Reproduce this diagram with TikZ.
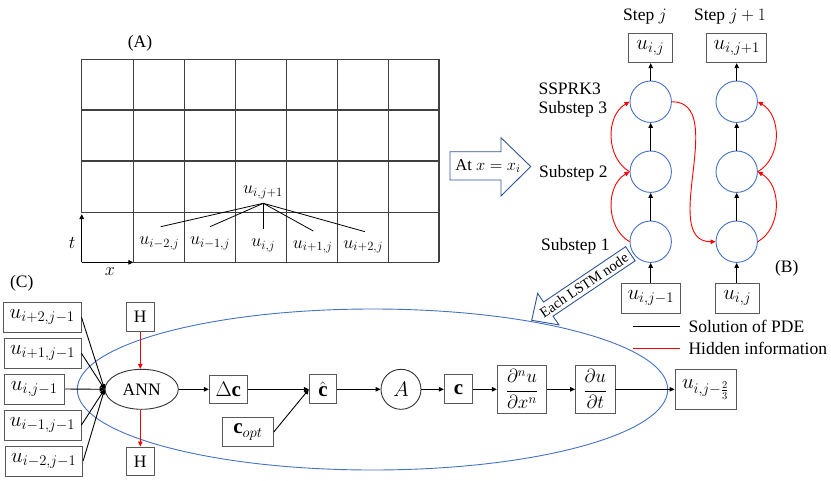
\RequirePackage{fix-cm}
\documentclass[tikz,border=0pt]{standalone}
\usepackage{amsmath}
\usepackage{fontspec}
\setmainfont{Liberation Serif}
\usetikzlibrary{arrows.meta,shapes.geometric}
\definecolor{cblue}{HTML}{4472C4}
\definecolor{dblue}{HTML}{2F5597}
\definecolor{gline}{HTML}{404040}
\definecolor{bline}{HTML}{595959}
\begin{document}
\begin{tikzpicture}[x=1pt,y=-1pt,
  every node/.style={font=\fontsize{17.5}{20}\selectfont},
  box/.style={draw=bline, line width=0.9pt, fill=white, inner sep=0pt},
  arr/.style={-{Triangle[length=5pt,width=4.5pt]}},
  blk/.style={arr, line width=0.9pt, black},
  rd/.style={arr, line width=0.9pt, red},
  lc/.style={circle, draw=cblue, line width=0.9pt, minimum size=41.4pt, inner sep=0pt},
  mth/.style={font=\fontsize{21}{24}\selectfont},
  gmth/.style={font=\fontsize{18}{21}\selectfont},
  gridl/.style={draw=gline, line width=1.1pt},
  thin/.style={line width=0.8pt, black}
]
\useasboundingbox (0,0) rectangle (831,480);

% ---------------- (A) grid ----------------
\foreach \x in {133.3,184.3,235.3,286.3,337.3,388.3,439}
  \draw[gridl] (\x,59.3) -- (\x,262.3);
\draw[gridl] (81.7,59.3) -- (81.7,212.7);
\foreach \y in {59.3,110,161,212.7}
  \draw[gridl] (81.7,\y) -- (439,\y);
\draw[gridl] (133.3,262.3) -- (439,262.3);
\coordinate (O) at (81.7,262.3);
\coordinate (tax) at (81.7,214);
\coordinate (xax) at (133.3,262.3);
\draw[arr, line width=1.1pt, black] (O) -- (tax);
\draw[arr, line width=1.1pt, black] (O) -- (xax);
\node (lA) at (140,43) {(A)};
\node[gmth] (lt) at (72,243) {$t$};
\node[gmth] (lx) at (110,272) {$x$};

\node[gmth] (up) at (263,192) {$u_{i,j+1}$};
\coordinate (hub) at (263.3,203.3);
\coordinate (e1) at (160.7,226.7);
\coordinate (e2) at (210,226.7);
\coordinate (e3) at (263.3,229);
\coordinate (e4) at (313.3,231);
\coordinate (e5) at (365,231.7);
\foreach \e in {e1,e2,e3,e4,e5} \draw[thin] (hub) -- (\e);
\node[gmth] (g1) at (159.3,243.3) {$u_{i-2,j}$};
\node[gmth] (g2) at (210,243.3) {$u_{i-1,j}$};
\node[gmth] (g3) at (263.3,245) {$u_{i,j}$};
\node[gmth] (g4) at (312.7,246.7) {$u_{i+1,j}$};
\node[gmth] (g5) at (363.3,246.7) {$u_{i+2,j}$};

% ---------------- big arrow ----------------
\draw[dblue, fill=white, line width=0.9pt] (450,151.7) -- (501,151.7) -- (501,137.7)
  -- (530.7,166.5) -- (501,196) -- (501,180) -- (450,180) -- cycle;
\node[font=\fontsize{16.5}{19}\selectfont] (atx) at (488,166) {At $x=x_i$};

% ---------------- (B) ----------------
\node (sj) at (645,17) {Step $j$};
\node (sj1) at (730,17) {Step $j+1$};
\node[anchor=west] (ss0) at (535,88.3) {SSPRK3};
\node[anchor=west] (ss3) at (535,109.3) {Substep 3};
\node[anchor=west] (ss2) at (535.5,173.3) {Substep 2};
\node[anchor=west] (ss1) at (537.5,246) {Substep 1};
\node (lB) at (786.7,268.3) {(B)};

\node[box, minimum width=44pt, minimum height=29.4pt, mth] (TL) at (650.3,48) {$u_{i,j}$};
\node[box, minimum width=60pt, minimum height=29.4pt, mth] (TR) at (736.7,48) {$u_{i,j+1}$};
\node[lc] (L1) at (650.7,241.7) {};
\node[lc] (L2) at (650.7,171.7) {};
\node[lc] (L3) at (650.7,101.7) {};
\node[lc] (R1) at (736.7,241.7) {};
\node[lc] (R2) at (736.7,171.7) {};
\node[lc] (R3) at (736.7,101.7) {};
\node[box, minimum width=59.7pt, minimum height=30pt, mth] (BL) at (650.8,298.3) {$u_{i,j-1}$};
\node[box, minimum width=44.3pt, minimum height=30pt, mth] (BR) at (737.2,298.3) {$u_{i,j}$};

\draw[blk] (BL.north -| L1) -- (L1.south);
\draw[blk] (L1.north) -- (L2.south);
\draw[blk] (L2.north) -- (L3.south);
\draw[blk] (L3.north) -- (TL.south -| L3);
\draw[blk] (BR.north -| R1) -- (R1.south);
\draw[blk] (R1.north) -- (R2.south);
\draw[blk] (R2.north) -- (R3.south);
\draw[blk] (R3.north) -- (TR.south -| R3);

\draw[rd] (L1.west) .. controls +(-24,-14) and +(-24,14) .. (L2.west);
\draw[rd] (L2.west) .. controls +(-24,-14) and +(-24,14) .. (L3.west);
\draw[rd] (R1.east) .. controls +(24,-14) and +(24,14) .. (R2.east);
\draw[rd] (R2.east) .. controls +(24,-14) and +(24,14) .. (R3.east);
\draw[rd] (L3.east) to[out=0,in=180] (R1.west);

% legend
\coordinate (k1) at (633.3,326.7);
\coordinate (k2) at (680,326.7);
\coordinate (k3) at (633.3,348.3);
\coordinate (k4) at (680,348.3);
\draw[line width=1pt, black] (k1) -- (k2);
\draw[line width=1pt, red] (k3) -- (k4);
\node[anchor=west] (kt1) at (685,326.7) {Solution of PDE};
\node[anchor=west] (kt2) at (685,348.3) {Hidden information};

% ---------------- (C) ----------------
\node[ellipse, draw=cblue, line width=0.9pt, minimum width=590.4pt, minimum height=161pt, inner sep=0pt] (E) at (372.5,389.5) {};

\begin{scope}[shift={(531.7,320.3)}, rotate=34]
  \draw[dblue, fill=white, line width=0.9pt] (0,0) -- (20,19) -- (20,8.5) -- (119,8.5)
    -- (119,-8.5) -- (20,-8.5) -- (20,-19) -- cycle;
  \node[rotate=34, font=\fontsize{14.5}{16}\selectfont, inner sep=0pt] (lstm) at (63,0) {Each LSTM node};
\end{scope}

\node (lC) at (21.7,283.3) {(C)};
\node[box, minimum width=77.7pt, minimum height=30pt, mth] (u1) at (42.2,317.3) {$u_{i+2,j-1}$};
\node[box, minimum width=77pt, minimum height=30pt, mth] (u2) at (42.5,353.3) {$u_{i+1,j-1}$};
\node[box, minimum width=60.3pt, minimum height=30pt, mth] (u3) at (34.2,389) {$u_{i,j-1}$};
\node[box, minimum width=77pt, minimum height=30pt, mth] (u4) at (42.5,425) {$u_{i-1,j-1}$};
\node[box, minimum width=77.7pt, minimum height=30pt, mth] (u5) at (43.8,461) {$u_{i-2,j-1}$};

\node[ellipse, draw=black!80, line width=0.9pt, minimum width=73.3pt, minimum height=40pt, inner sep=0pt] (ann) at (141.7,389.3) {ANN};
\node[box, minimum width=27.3pt, minimum height=28.7pt] (Ht) at (140.3,316.7) {H};
\node[box, minimum width=27.3pt, minimum height=28.7pt] (Hb) at (140.3,461.3) {H};

\foreach \u in {u1,u2,u3,u4,u5} \draw[blk] (\u.east) -- (ann.west);
\draw[rd] (Ht.south) -- (ann.north -| Ht.south);
\draw[rd] (ann.south -| Hb.north) -- (Hb.north);

\node[box, minimum width=38pt, minimum height=28.3pt, mth] (dc) at (228.3,389.3) {$\Delta\mathbf{c}$};
\node[box, minimum width=27.4pt, minimum height=29pt, mth] (ch) at (323,389.3) {$\hat{\mathbf{c}}$};
\node[box, minimum width=50.6pt, minimum height=29.4pt, mth] (copt) at (248,432) {$\mathbf{c}_{opt}$};
\node[circle, draw=black!80, line width=0.9pt, minimum size=40pt, inner sep=0pt, mth] (A) at (401,389.3) {$A$};
\node[box, minimum width=28.4pt, minimum height=29pt, mth] (cc) at (458.5,389.3) {$\mathbf{c}$};
\node[box, minimum width=49.4pt, minimum height=48pt, font=\fontsize{19}{22}\selectfont] (dnx) at (522,389.3) {$\dfrac{\partial^n u}{\partial x^n}$};
\node[box, minimum width=39.3pt, minimum height=47.3pt, font=\fontsize{19}{22}\selectfont] (dt) at (595.3,389.3) {$\dfrac{\partial u}{\partial t}$};
\node[box, minimum width=61pt, minimum height=40pt, mth] (uo) at (705.5,389.3) {$u_{i,j-\frac{2}{3}}$};

\draw[blk] (ann.east) -- (dc.west);
\draw[blk] (dc.east) -- (ch.west);
\draw[blk] (copt.east) -- (ch.west);
\draw[blk] (ch.east) -- (A.west);
\draw[blk] (A.east) -- (cc.west);
\draw[blk] (cc.east) -- (dnx.west);
\draw[blk] (dnx.east) -- (dt.west);
\draw[blk] (dt.east) -- (uo.west);
\end{tikzpicture}
\end{document}
